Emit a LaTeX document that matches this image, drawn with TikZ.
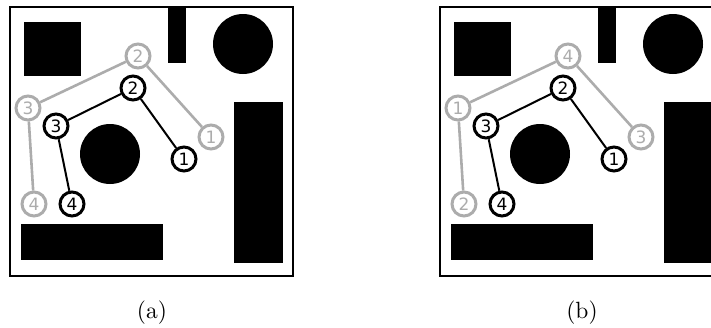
\documentclass[tikz,border=0pt]{standalone}
\usepackage{fontspec}
\newfontfamily\digitfont{DejaVu Sans}
\begin{document}
\begin{tikzpicture}[x=1pt,y=-1pt,
  obst/.style={fill=black,draw=none},
  frame/.style={draw=black,line width=2pt},
  bnode/.style={circle,draw=black,fill=white,line width=3pt,minimum size=24pt,inner sep=0pt,font=\digitfont\fontsize{17}{17}\selectfont,text=black},
  gnode/.style={bnode,draw=gray!65,text=gray!65},
  blink/.style={draw=black,line width=2pt},
  glink/.style={draw=gray!65,line width=2.6pt},
  captxt/.style={font=\normalsize,scale=2.35}]
\useasboundingbox (0,0) rectangle (711,327);
\clip (0,0) rectangle (711,327);
% ---------- panel (a) ----------
\begin{scope}
\fill[obst] (24,22) rectangle (81,76);
\fill[obst] (168,7) rectangle (186,63);
\fill[obst] (243,44) circle (30);
\fill[obst] (234,102) rectangle (283,263);
\fill[obst] (110,154) circle (30);
\fill[obst] (21,224) rectangle (163,260);
\draw[frame] (10,7) rectangle (293,276);
\node[gnode] (ag1) at (211,137) {1};
\node[gnode] (ag2) at (138,56) {2};
\node[gnode] (ag3) at (28,108) {3};
\node[gnode] (ag4) at (34,204) {4};
\node[bnode] (ab1) at (184,159) {1};
\node[bnode] (ab2) at (133,88) {2};
\node[bnode] (ab3) at (56,126) {3};
\node[bnode] (ab4) at (72,204) {4};
\draw[glink] (ag1) -- (ag2) -- (ag3) -- (ag4);
\draw[blink] (ab1) -- (ab2) -- (ab3) -- (ab4);
\node[captxt] (capa) at (152,313) {(a)};
\end{scope}
% ---------- panel (b) ----------
\begin{scope}[xshift=430pt]
\fill[obst] (24,22) rectangle (81,76);
\fill[obst] (168,7) rectangle (186,63);
\fill[obst] (243,44) circle (30);
\fill[obst] (234,102) rectangle (283,263);
\fill[obst] (110,154) circle (30);
\fill[obst] (21,224) rectangle (163,260);
\draw[frame] (10,7) rectangle (293,276);
\node[gnode] (bg3) at (211,137) {3};
\node[gnode] (bg4) at (138,56) {4};
\node[gnode] (bg1) at (28,108) {1};
\node[gnode] (bg2) at (34,204) {2};
\node[bnode] (bb1) at (184,159) {1};
\node[bnode] (bb2) at (133,88) {2};
\node[bnode] (bb3) at (56,126) {3};
\node[bnode] (bb4) at (72,204) {4};
\draw[glink] (bg3) -- (bg4) -- (bg1) -- (bg2);
\draw[blink] (bb1) -- (bb2) -- (bb3) -- (bb4);
\node[captxt] (capb) at (152,313) {(b)};
\end{scope}
\end{tikzpicture}
\end{document}
